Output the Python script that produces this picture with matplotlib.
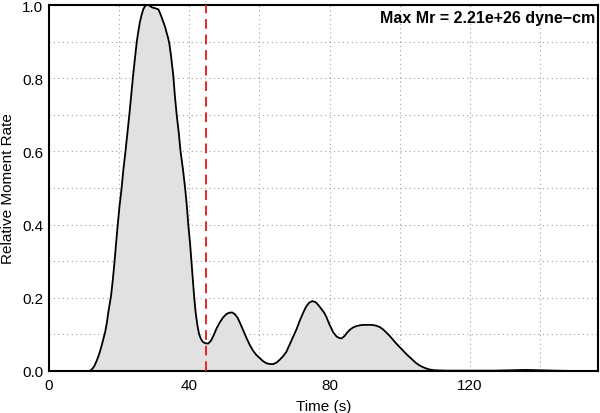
import numpy as np
import matplotlib
matplotlib.use('Agg')
import matplotlib.pyplot as plt

plt.rcParams['font.family'] = ['Liberation Sans', 'DejaVu Sans']

# values
time_s = [0, 11.5, 12.2, 12.9, 13.6, 14.3, 15.0, 15.5, 16.0, 16.5, 16.9, 17.3, 17.7,
          18.2, 18.6, 19.1, 19.5, 20.1, 20.7, 21.2, 21.8, 22.4, 22.9, 23.5, 24.0,
          24.5, 25.0, 25.5, 25.9, 26.4, 26.9, 27.4, 27.8, 28.3, 28.8, 29.5, 30.3,
          31.2, 31.9, 32.6, 33.1, 33.5, 33.9, 34.3, 34.8, 35.4, 35.9, 36.4, 37.0,
          37.5, 38.2, 38.8, 39.3, 39.7, 40.2, 40.6, 41.0, 41.4, 41.8, 42.3, 42.8,
          43.3, 43.8, 44.5, 45.4, 46.2, 47.0, 47.8, 48.7, 49.6, 50.5, 51.3, 52.2,
          53.0, 53.8, 54.6, 55.5, 56.4, 57.3, 58.2, 59.1, 60.1, 61.0, 62.0, 63.0,
          64.0, 65.0, 65.8, 66.7, 67.7, 68.5, 69.2, 70.0, 70.6, 71.5, 72.5, 73.3,
          74.2, 75.1, 76.0, 76.8, 77.6, 78.4, 79.1, 80.0, 81.0, 82.0, 82.8, 83.4,
          84.2, 85.0, 85.8, 86.7, 87.7, 88.7, 89.6, 90.8, 92.0, 93.2, 94.3, 95.3,
          96.3, 97.2, 98.1, 99.0, 100.0, 101.0, 101.9, 102.8, 103.7, 104.6, 105.5,
          106.5, 107.5, 108.5, 110, 113, 120, 127, 132, 136, 140, 144, 150, 156.5]
moment_rate = [0, 0, 0.004, 0.013, 0.028, 0.046, 0.069, 0.087, 0.106, 0.132, 0.16, 0.183, 0.206,
               0.25, 0.29, 0.345, 0.39, 0.45, 0.5, 0.55, 0.6, 0.655, 0.7, 0.76, 0.81,
               0.855, 0.898, 0.93, 0.953, 0.973, 0.989, 0.997, 1.0, 1.0, 0.997, 0.993, 0.991,
               0.988, 0.972, 0.953, 0.94, 0.925, 0.912, 0.895, 0.86, 0.81, 0.75, 0.7, 0.65,
               0.6, 0.55, 0.5, 0.45, 0.4, 0.35, 0.3, 0.25, 0.2, 0.16, 0.125, 0.1,
               0.088, 0.08, 0.076, 0.075, 0.083, 0.099, 0.117, 0.133, 0.146, 0.155, 0.159, 0.16,
               0.155, 0.145, 0.128, 0.108, 0.088, 0.07, 0.055, 0.044, 0.035, 0.027, 0.021, 0.019,
               0.019, 0.024, 0.031, 0.04, 0.053, 0.07, 0.085, 0.102, 0.115, 0.138, 0.16, 0.176,
               0.187, 0.191, 0.188, 0.18, 0.17, 0.16, 0.147, 0.126, 0.106, 0.094, 0.09, 0.089,
               0.095, 0.105, 0.113, 0.119, 0.123, 0.125, 0.126, 0.126, 0.126, 0.124, 0.12, 0.113,
               0.104, 0.095, 0.085, 0.075, 0.065, 0.055, 0.046, 0.038, 0.03, 0.022, 0.016,
               0.011, 0.007, 0.004, 0.002, 0.001, 0.001, 0.001, 0.002, 0.003, 0.002, 0.001, 0.0, 0.0]
t_mark = 44.8
max_mr = '2.21e+26'

fig = plt.figure(figsize=(6, 4.14), dpi=100)
ax = fig.add_axes([49/600, 1-372/414, 549/600, 366/414])

ax.fill_between(time_s, moment_rate, 0, color='#e1e1e1', lw=0, zorder=1)
ax.plot(time_s, moment_rate, color='black', lw=1.3, zorder=3)
ax.axvline(t_mark, color='#e8262a', lw=1.4, ls=(0, (5, 3)), zorder=4)

ax.set_xlim(0, 156.5)
ax.set_ylim(0, 1.0)
ax.set_xticks([0, 40, 80, 120])
ax.set_yticks(np.arange(0, 1.01, 0.2))
ax.set_yticklabels(['%.1f' % v for v in np.arange(0, 1.01, 0.2)])
ax.set_xticks(np.arange(20, 156, 40), minor=True)
ax.set_yticks(np.arange(0.1, 1.0, 0.2), minor=True)
ax.grid(which='both', color='#a0a0a0', ls=(0, (1, 3)), lw=0.8, zorder=0)
ax.set_axisbelow(True)
ax.tick_params(which='both', length=0, labelsize=11)
ax.tick_params(axis='x', pad=5)
ax.tick_params(axis='y', pad=4)
for s in ax.spines.values():
    s.set_linewidth(1.5)

ax.set_xlabel('Time (s)', fontsize=11, labelpad=5)
ax.set_ylabel('Relative Moment Rate', fontsize=11, labelpad=5)
ax.text(0.995, 0.985, 'Max Mr = %s dyne\u2212cm' % max_mr, transform=ax.transAxes,
        ha='right', va='top', fontsize=11.5, fontweight='bold')

fig.savefig('out.png', dpi=100)
